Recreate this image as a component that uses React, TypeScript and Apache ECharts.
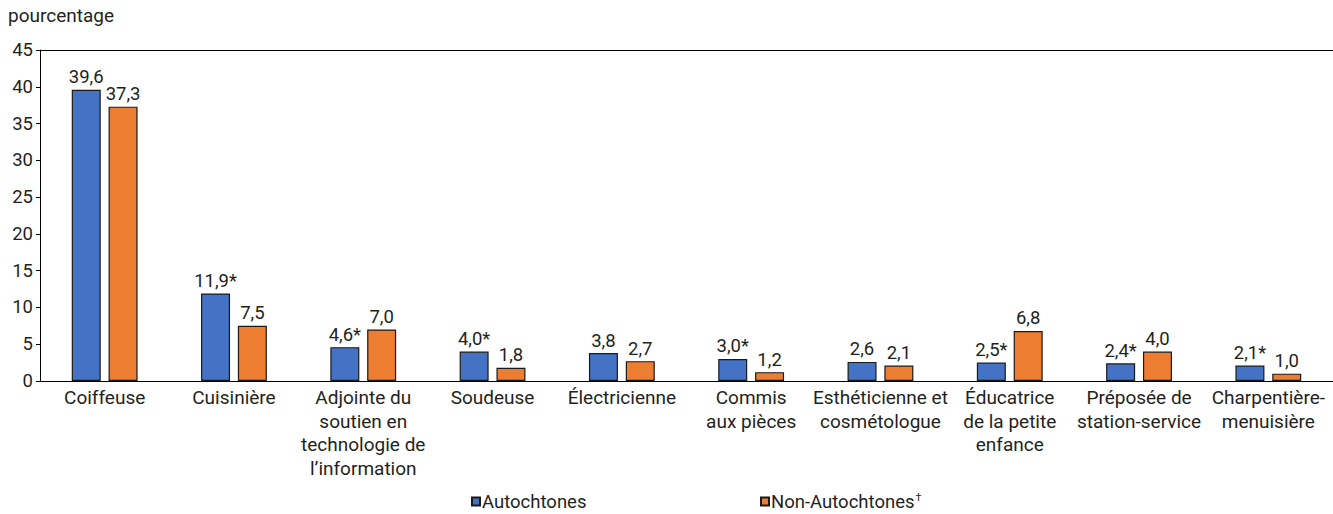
import React, { useEffect, useRef } from "react";
import * as echarts from "echarts";

const categories = [
  "Coiffeuse",
  "Cuisinière",
  "Adjointe du\nsoutien en\ntechnologie de\nl’information",
  "Soudeuse",
  "Électricienne",
  "Commis\naux pièces",
  "Esthéticienne et\ncosmétologue",
  "Éducatrice\nde la petite\nenfance",
  "Préposée de\nstation-service",
  "Charpentière-\nmenuisière",
];
const autochtones = [39.6, 11.9, 4.6, 4.0, 3.8, 3.0, 2.6, 2.5, 2.4, 2.1];
const autochtonesFlag = [false, true, true, true, false, true, false, true, true, true];
const nonAutochtones = [37.3, 7.5, 7.0, 1.8, 2.7, 1.2, 2.1, 6.8, 4.0, 1.0];
const seriesNames = ["Autochtones", "Non-Autochtones†"];
const yTicks = { min: 0, max: 45, interval: 5 };

const FONT = "Roboto, 'Liberation Sans', Arial, sans-serif";
const TXT = "#231f20";

const fmt = (v: number) => v.toFixed(1).replace(".", ",");

export default function App() {
  const ref = useRef<HTMLDivElement>(null);
  useEffect(() => {
    document.body.style.margin = "0";
    const chart = echarts.init(ref.current!, null, { renderer: "svg" });
    const labelBase = {
      show: true,
      position: "top" as const,
      distance: 3,
      color: TXT,
      fontFamily: FONT,
      fontSize: 18.5,
    };
    const legendText = {
      fontFamily: FONT,
      fontSize: 18.5,
      color: TXT,
      rich: {
        a: { fontFamily: FONT, fontSize: 18.5, color: TXT, padding: [0, 0, 0, -3] },
        s: { fontFamily: FONT, fontSize: 11, color: TXT, verticalAlign: "top", padding: [0, 0, 7, 1] },
      },
    };
    chart.setOption({
      animation: false,
      textStyle: { fontFamily: FONT, color: TXT },
      grid: { left: 40, right: 0, top: 50, bottom: 133 },
      graphic: [
        {
          type: "text",
          left: 8,
          top: 6,
          style: { text: "pourcentage", fontFamily: FONT, fontSize: 19, fill: TXT },
        },
      ],
      legend: [
        {
          data: [seriesNames[0]],
          left: 466,
          top: 487,
          icon: "rect",
          itemWidth: 8,
          itemHeight: 8,
          textStyle: legendText,
          formatter: (n: string) => `{a|${n}}`,
        },
        {
          data: [seriesNames[1]],
          left: 755,
          top: 487,
          icon: "rect",
          itemWidth: 8,
          itemHeight: 8,
          textStyle: legendText,
          formatter: (n: string) =>
            n.endsWith("†") ? `{a|${n.slice(0, -1)}}{s|†}` : `{a|${n}}`,
        },
      ],
      xAxis: [
        {
          type: "category",
          data: categories,
          axisLine: { lineStyle: { color: "#000", width: 1 } },
          axisTick: { show: false },
          axisLabel: {
            interval: 0,
            color: TXT,
            fontFamily: FONT,
            fontSize: 19,
            lineHeight: 23.5,
            margin: 5,
          },
        },
        {
          type: "category",
          position: "top",
          data: categories,
          axisLine: { show: true, lineStyle: { color: "#000", width: 1 } },
          axisTick: { show: false },
          axisLabel: { show: false },
        },
      ],
      yAxis: {
        type: "value",
        min: yTicks.min,
        max: yTicks.max,
        interval: yTicks.interval,
        splitLine: { show: false },
        axisLine: { show: true, lineStyle: { color: "#000", width: 1 } },
        axisTick: { show: true, length: 4, lineStyle: { color: "#000" } },
        axisLabel: { color: TXT, fontFamily: FONT, fontSize: 18.5, margin: 7 },
      },
      series: [
        {
          name: seriesNames[0],
          type: "bar",
          data: autochtones,
          barWidth: 29,
          barGap: "27%",
          itemStyle: { color: "#4472C4", borderColor: "#1a1a1a", borderWidth: 1.2 },
          label: {
            ...labelBase,
            formatter: (p: any) => fmt(p.value) + (autochtonesFlag[p.dataIndex] ? "*" : ""),
          },
        },
        {
          name: seriesNames[1],
          type: "bar",
          data: nonAutochtones,
          barWidth: 29,
          barGap: "27%",
          itemStyle: { color: "#ED7D31", borderColor: "#1a1a1a", borderWidth: 1.2 },
          label: {
            ...labelBase,
            formatter: (p: any) => fmt(p.value),
          },
        },
      ],
    });
    return () => chart.dispose();
  }, []);
  return <div ref={ref} style={{ width: 1333, height: 514 }} />;
}
